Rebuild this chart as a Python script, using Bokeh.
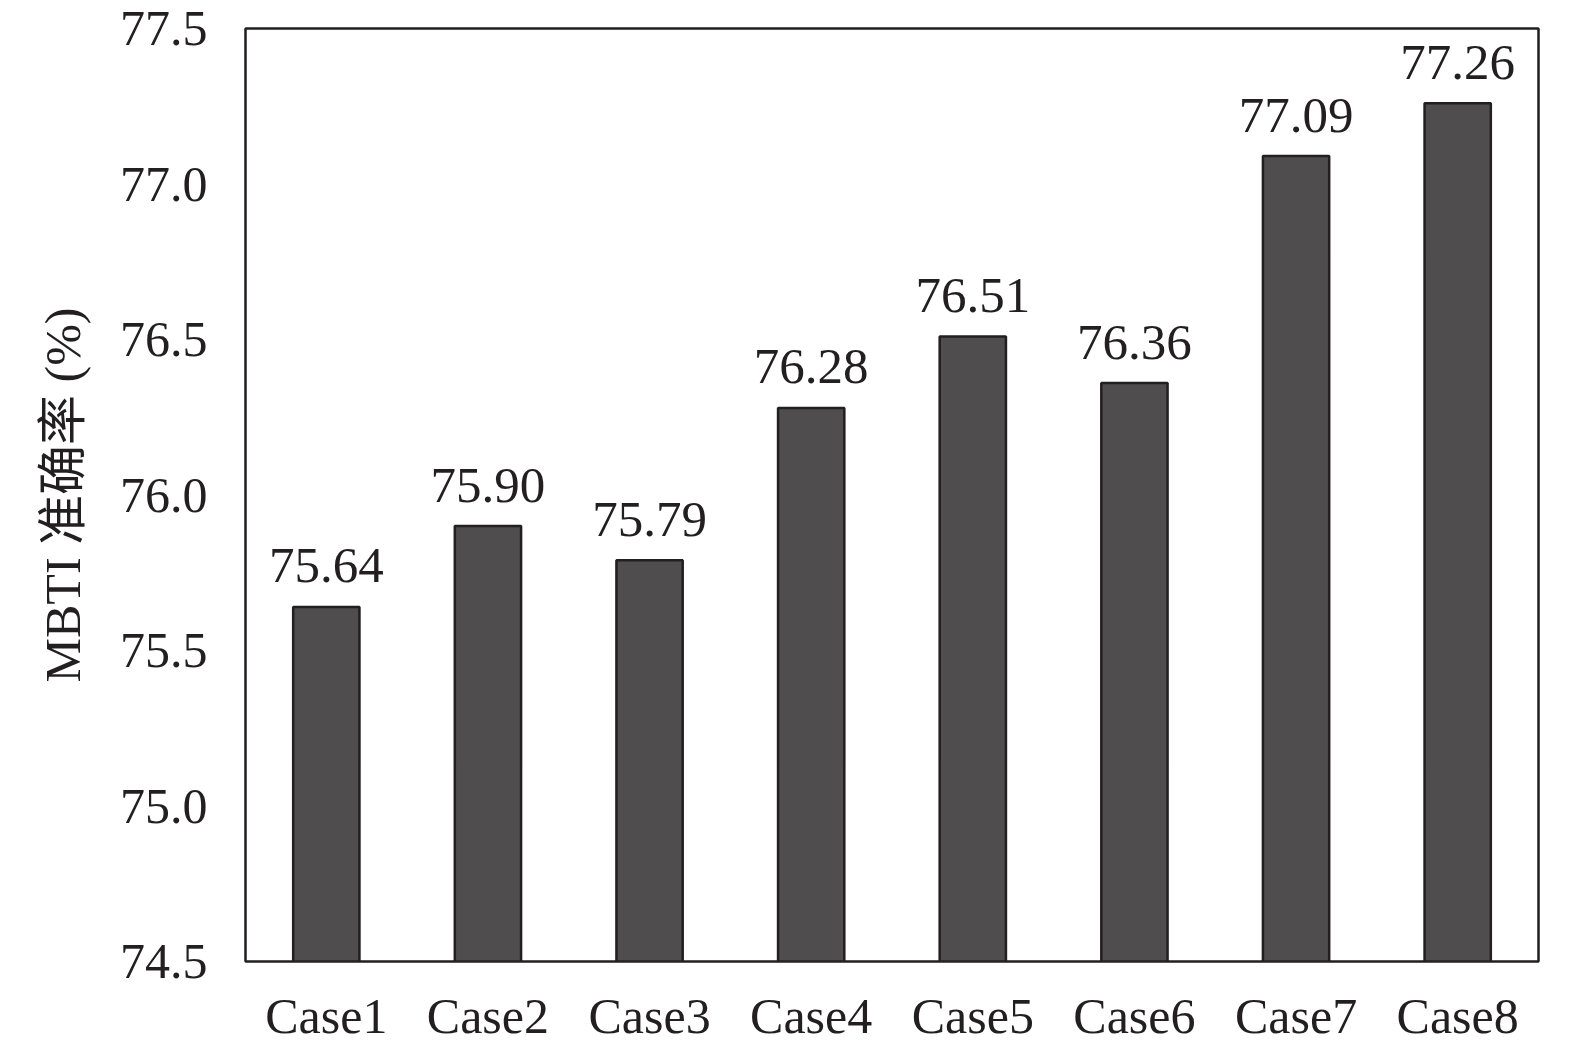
from bokeh.embed import file_html
from bokeh.models import ColumnDataSource, FixedTicker, Range1d
from bokeh.plotting import figure
from bokeh.resources import INLINE
from bokeh.core.properties import value

# data
cases = ["Case1", "Case2", "Case3", "Case4", "Case5", "Case6", "Case7", "Case8"]
accuracy = [75.64, 75.90, 75.79, 76.28, 76.51, 76.36, 77.09, 77.26]
y_ticks = [74.5, 75.0, 75.5, 76.0, 76.5, 77.0, 77.5]

SERIF = "Liberation Serif, Times New Roman, Noto Sans CJK SC, serif"
INK = "#231f20"

source = ColumnDataSource(dict(
    case=cases,
    acc=accuracy,
    label=[f"{v:.2f}" for v in accuracy],
))

p = figure(
    x_range=cases,
    y_range=Range1d(74.5, 77.5),
    width=1570,
    height=1046,
    output_backend="svg",
    toolbar_location=None,
    min_border_left=245,
    min_border_right=32,
    min_border_top=28,
    min_border_bottom=80,
)

# bars
p.vbar(
    x="case", top="acc", bottom=74.5, width=0.41, source=source,
    fill_color="#4f4d4e", line_color=INK, line_width=2.5,
)

# value labels above the bars
p.text(
    x="case", y="acc", text="label", source=source,
    text_font=value(SERIF), text_font_size="51px", text_color=INK,
    text_align="center", text_baseline="alphabetic", y_offset=-41,
)

# frame and axes
p.outline_line_color = INK
p.outline_line_width = 2.5
p.outline_line_alpha = 1.0
p.grid.visible = False
p.background_fill_color = "white"
p.border_fill_color = "white"

p.yaxis.ticker = FixedTicker(ticks=y_ticks)
p.yaxis.major_label_overrides = {t: f"{t:.1f}" for t in y_ticks}
p.yaxis.axis_label = "MBTI 准确率 (%)"

for ax in (p.xaxis, p.yaxis):
    ax.axis_line_color = None
    ax.major_tick_line_color = None
    ax.minor_tick_line_color = None
    ax.major_tick_out = 0
    ax.major_tick_in = 0
    ax.minor_tick_out = 0
    ax.major_label_text_font = SERIF
    ax.major_label_text_font_size = "50px"
    ax.major_label_text_color = INK
    ax.axis_label_text_font = SERIF
    ax.axis_label_text_font_style = "normal"
    ax.axis_label_text_font_size = "50px"
    ax.axis_label_text_color = INK

p.yaxis.major_label_standoff = 38
p.yaxis.axis_label_standoff = 26
p.xaxis.major_label_standoff = 26

open("out.html", "w").write(file_html(p, INLINE))
